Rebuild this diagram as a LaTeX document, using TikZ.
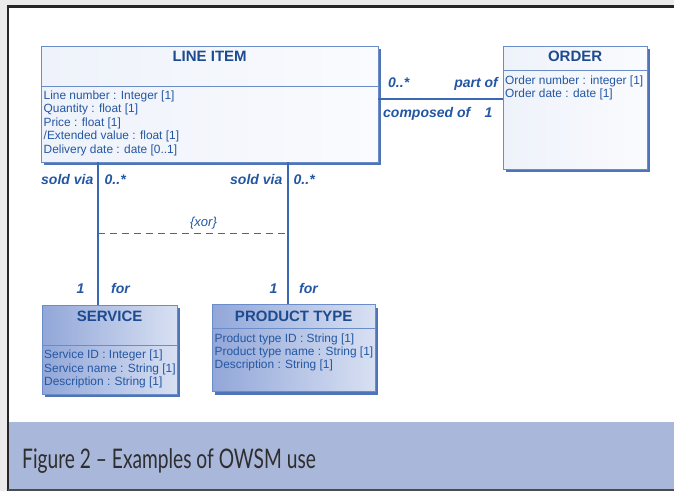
\documentclass[tikz,border=0pt]{standalone}
\usepackage{fontspec}
\setmainfont{Liberation Sans}
\newfontfamily\capfont[FakeStretch=0.71]{Lato}
\usetikzlibrary{shadows}
\definecolor{boxline}{HTML}{6A8CC8}
\definecolor{shadowblue}{HTML}{4F74B8}
\definecolor{lineblue}{HTML}{3A68B2}
\definecolor{textblue}{HTML}{2457A3}
\definecolor{titleblue}{HTML}{1D4B90}
\definecolor{paleA}{HTML}{EEF2FA}
\definecolor{paleB}{HTML}{FAFBFE}
\definecolor{lavA}{HTML}{92A7D9}
\definecolor{lavB}{HTML}{D8E0F2}
\definecolor{band}{HTML}{A9B7DA}
\definecolor{framegrey}{HTML}{EBEBEB}
\begin{document}
\begin{tikzpicture}[x=1pt,y=-1pt,
  classbox/.style={draw=boxline, line width=0.8pt, inner sep=0pt, anchor=north west,
    drop shadow={shadow xshift=3pt, shadow yshift=-3pt, fill=shadowblue, opacity=1}},
  lightbox/.style={classbox, left color=paleA, right color=paleB},
  darkbox/.style={classbox, left color=lavA, right color=lavB},
  classname/.style={font=\bfseries\fontsize{15}{15}\selectfont, text=titleblue, inner sep=0pt, anchor=base},
  attr/.style={font=\fontsize{11.9}{13.5}\selectfont, text=textblue, inner sep=0pt, anchor=base west},
  role/.style={font=\bfseries\itshape\fontsize{14}{14}\selectfont, text=textblue, inner sep=0pt, anchor=base west},
  roleR/.style={role, anchor=base east},
  assoc/.style={draw=lineblue, line width=1.8pt},
  divider/.style={draw=boxline, line width=0.8pt},
  xorline/.style={draw=lineblue, line width=0.8pt, dash pattern=on 7pt off 5pt}]
\useasboundingbox (0,0) rectangle (674,491);

% page frame and caption band
\fill[framegrey] (0,0) rectangle (674,491);
\fill[white] (8,7) rectangle (674,489);
\fill[band] (9,422) rectangle (674,489);
\draw[black!85, line width=3pt] (7,6.3) -- (674,6.3);
\draw[black!85, line width=2.6pt] (8,5) -- (8,491);
\draw[black!70, line width=2pt] (8,490) -- (674,490);
\node[font=\capfont\fontsize{27}{27}\selectfont, text=black!82, inner sep=0pt, anchor=base west] (caption) at (22,468) {Figure 2 \textendash{} Examples of OWSM use};

% classes
\node[lightbox, minimum width=336.5pt, minimum height=115.5pt] (lineitem) at (41,46) {};
\node[lightbox, minimum width=144pt, minimum height=122.5pt] (order) at (502.7,46) {};
\node[darkbox, minimum width=135pt, minimum height=88.5pt] (service) at (41.7,305) {};
\node[darkbox, minimum width=163.3pt, minimum height=87pt] (product) at (211.7,304.3) {};

% header dividers
\draw[divider] (lineitem.west |- 0,86) -- (lineitem.east |- 0,86);
\draw[divider] (order.west |- 0,70.7) -- (order.east |- 0,70.7);
\draw[divider] (service.west |- 0,345) -- (service.east |- 0,345);
\draw[divider] (product.west |- 0,328.5) -- (product.east |- 0,328.5);

% class names
\node[classname] (lineitemname) at (lineitem.north |- 0,61.2) {LINE ITEM};
\node[classname] (ordername) at (order.north |- 0,61.7) {ORDER};
\node[classname] (servicename) at (service.north |- 0,321.7) {SERVICE};
\node[classname] (productname) at (product.north |- 0,321.7) {PRODUCT TYPE};

% attributes
\node[attr] (li1) at (43.5,99.2) {Line number : Integer [1]};
\node[attr] (li2) at (43.5,112.7) {Quantity : float [1]};
\node[attr] (li3) at (43.5,126.2) {Price : float [1]};
\node[attr] (li4) at (43.5,139.7) {/Extended value : float [1]};
\node[attr] (li5) at (43.5,153.2) {Delivery date : date [0..1]};
\node[attr] (or1) at (505,84.2) {Order number : integer [1]};
\node[attr] (or2) at (505,97.2) {Order date : date [1]};
\node[attr] (se1) at (44,358.7) {Service ID : Integer [1]};
\node[attr] (se2) at (44,372.2) {Service name : String [1]};
\node[attr] (se3) at (44,385.7) {Description : String [1]};
\node[attr] (pt1) at (214.5,342.2) {Product type ID : String [1]};
\node[attr] (pt2) at (214.5,355.5) {Product type name : String [1]};
\node[attr] (pt3) at (214.5,368.5) {Description : String [1]};

% associations
\draw[assoc] (lineitem.east |- 0,99.3) -- (order.west |- 0,99.3);
\draw[assoc] (lineitem.south -| 98,0) -- (service.north -| 98,0);
\draw[assoc] (lineitem.south -| 288,0) -- (product.north -| 288,0);
\coordinate (xorL) at (98,233);
\coordinate (xorR) at (288,233);
\draw[xorline] (xorL) -- (xorR);

% association ends
\node[role] (m1) at (388,87) {0..*};
\node[roleR] (r1) at (498,87) {part of};
\node[role] (r2) at (383,117) {composed of};
\node[role] (m2) at (484.5,117) {1};
\node[roleR] (r3) at (93.5,184.5) {sold via};
\node[role] (m3) at (104.5,184) {0..*};
\node[roleR] (r4) at (282.5,184.5) {sold via};
\node[role] (m4) at (293.5,184) {0..*};
\node[role, font=\itshape\fontsize{13}{13}\selectfont, anchor=base] (xor) at (203.5,226) {\{xor\}};
\node[role] (m5) at (76.5,293.5) {1};
\node[role] (r5) at (111,293.5) {for};
\node[role] (m6) at (269.5,293.5) {1};
\node[role] (r6) at (299,293.5) {for};
\end{tikzpicture}
\end{document}
